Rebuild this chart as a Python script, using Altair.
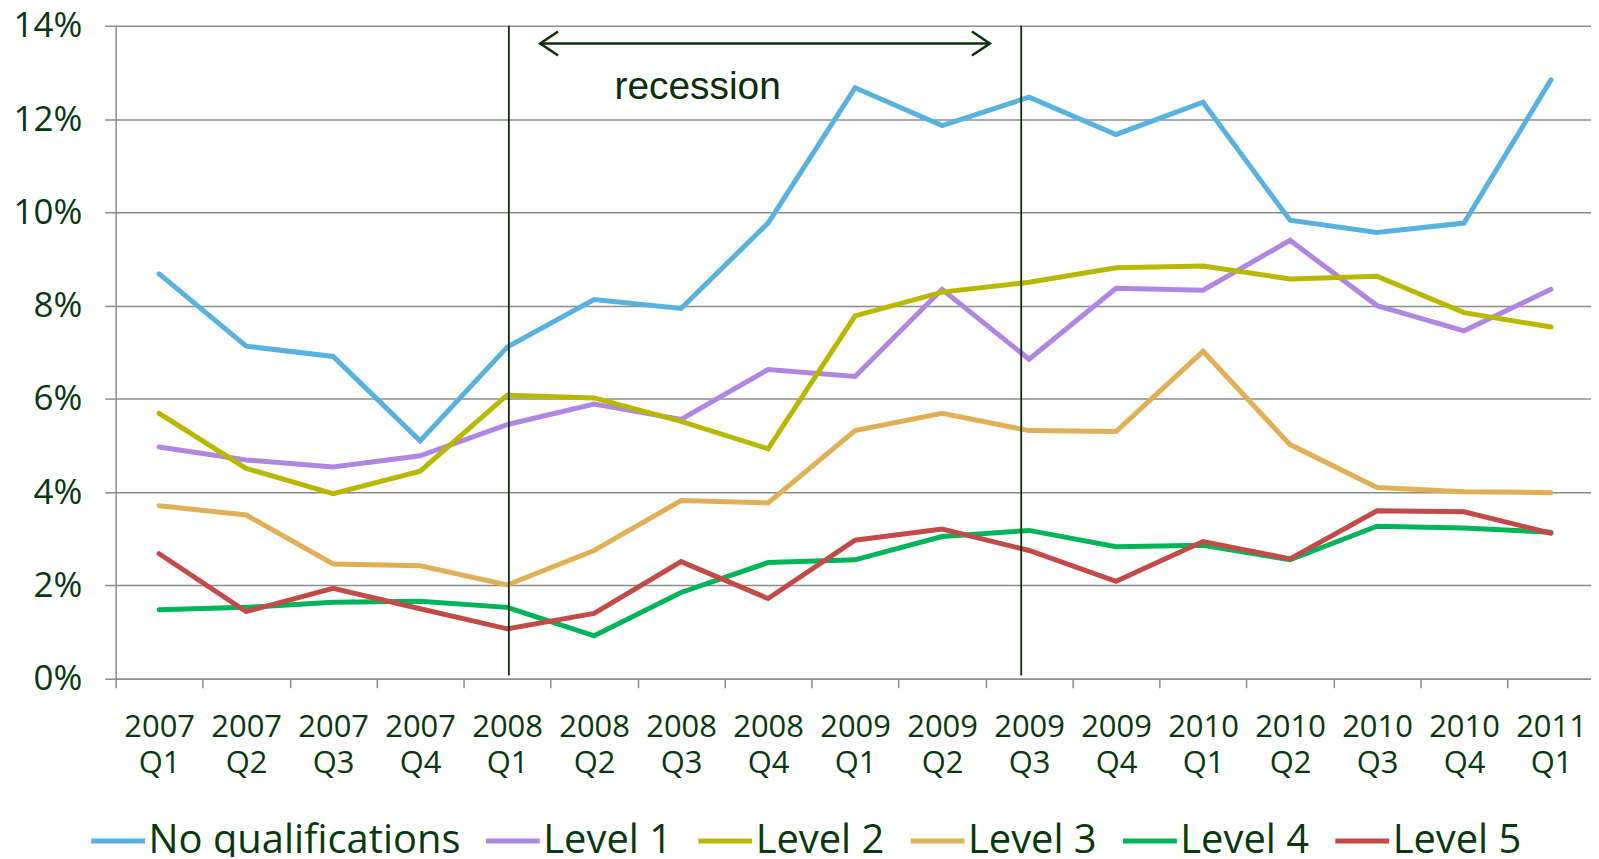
import altair as alt
import pandas as pd

# ---- data -------------------------------------------------------------
YEARS = ["2007"] * 4 + ["2008"] * 4 + ["2009"] * 4 + ["2010"] * 4 + ["2011"]
QTRS = ["Q1", "Q2", "Q3", "Q4"] * 4 + ["Q1"]

SERIES = ["No qualifications", "Level 1", "Level 2", "Level 3", "Level 4", "Level 5"]
COLORS = ["#58b2e0", "#b087e0", "#b9b800", "#e1b056", "#00b559", "#c24b48"]

NO_QUAL = [8.68, 7.13, 6.91, 5.10, 7.11, 8.13, 7.94, 9.77, 12.67, 11.86, 12.47, 11.67, 12.36, 9.83, 9.57, 9.77, 12.84]
LEVEL_1 = [4.97, 4.69, 4.54, 4.78, 5.45, 5.89, 5.56, 6.63, 6.48, 8.35, 6.85, 8.37, 8.33, 9.40, 8.00, 7.46, 8.35]
LEVEL_2 = [5.69, 4.51, 3.97, 4.45, 6.08, 6.02, 5.52, 4.93, 7.78, 8.29, 8.50, 8.81, 8.85, 8.57, 8.63, 7.85, 7.54]
LEVEL_3 = [3.71, 3.51, 2.46, 2.42, 2.01, 2.75, 3.82, 3.77, 5.32, 5.69, 5.32, 5.30, 7.02, 5.02, 4.10, 4.01, 3.99]
LEVEL_4 = [1.48, 1.53, 1.64, 1.66, 1.53, 0.92, 1.85, 2.49, 2.55, 3.05, 3.18, 2.83, 2.86, 2.55, 3.27, 3.23, 3.14]
LEVEL_5 = [2.68, 1.44, 1.94, 1.50, 1.07, 1.40, 2.51, 1.72, 2.97, 3.21, 2.75, 2.09, 2.94, 2.57, 3.60, 3.58, 3.12]

Y_TICKS = [0, 2, 4, 6, 8, 10, 12, 14]

# recession annotation (in data units: quarter index / percent)
REC_LINES = [4.02, 9.91]
REC_TOP, REC_BOTTOM = 14.0, 0.07
ARROW_FROM, ARROW_TO, ARROW_Y = 4.38, 9.55, 13.62
REC_LABEL = "recession"
REC_LABEL_X, REC_LABEL_Y = 6.19, 12.68

TEXT = "#0a380e"
GRID = "#8c8c8c"
DARK = "#0b2e0b"

# ---- tables -----------------------------------------------------------
rows = []
for name, vals in zip(SERIES, [NO_QUAL, LEVEL_1, LEVEL_2, LEVEL_3, LEVEL_4, LEVEL_5]):
    for i, v in enumerate(vals):
        rows.append({"idx": i, "value": v, "series": name})
df = pd.DataFrame(rows)

rec_df = pd.DataFrame({"idx": REC_LINES, "value": [REC_TOP] * 2, "value2": [REC_BOTTOM] * 2})
arrow_df = pd.DataFrame({"idx": [ARROW_FROM], "idx2": [ARROW_TO], "value": [ARROW_Y]})
head_l = pd.DataFrame({"idx": [ARROW_FROM], "value": [ARROW_Y]})
head_r = pd.DataFrame({"idx": [ARROW_TO], "value": [ARROW_Y]})
label_df = pd.DataFrame({"idx": [REC_LABEL_X], "value": [REC_LABEL_Y], "label": [REC_LABEL]})

# ---- encodings ----------------------------------------------------------
label_arr = "[" + ",".join("['%s','%s']" % (y, q) for y, q in zip(YEARS, QTRS)) + "]"
x_values = [i / 2 - 0.5 for i in range(2 * len(YEARS) + 1)]

x_axis = alt.Axis(
    values=x_values,
    title=None,
    labelExpr="datum.value % 1 == 0 ? " + label_arr + "[datum.value] : ''",
    labelFont="Open Sans",
    labelFontSize=31,
    labelColor=TEXT,
    labelLineHeight=36,
    labelPadding=25,
    labelOverlap=False,
    labelFlush=False,
    labelBound=False,
    tickSize=9,
    tickWidth=1.5,
    tickColor={"condition": {"test": "datum.value % 1 == 0", "value": "transparent"}, "value": GRID},
    domainColor=GRID,
    domainWidth=1.5,
    grid=False,
)
y_axis = alt.Axis(
    values=Y_TICKS,
    title=None,
    labelExpr="datum.value + '%'",
    labelFont="Open Sans",
    labelFontSize=35,
    labelColor=TEXT,
    labelPadding=23,
    tickSize=11,
    tickWidth=1.5,
    tickColor=GRID,
    domainColor=GRID,
    domainWidth=1.5,
    grid=True,
    gridColor=GRID,
    gridWidth=1.5,
)

x_scale = alt.Scale(domain=[-0.5, 16.46], nice=False, zero=False)
y_scale = alt.Scale(domain=[0, 14], nice=False)

X = alt.X("idx:Q", scale=x_scale, axis=x_axis)
Y = alt.Y("value:Q", scale=y_scale, axis=y_axis)

lines = alt.Chart(df).mark_line(strokeWidth=5, strokeCap="round").encode(
    x=X,
    y=Y,
    color=alt.Color(
        "series:N",
        scale=alt.Scale(domain=SERIES, range=COLORS),
        sort=SERIES,
        legend=alt.Legend(
            orient="none",
            legendX=-27,
            legendY=788,
            direction="horizontal",
            columns=6,
            title=None,
            symbolType="stroke",
            symbolSize=2916,
            symbolStrokeWidth=5,
            labelFont="Open Sans",
            labelFontSize=40,
            labelColor=TEXT,
            labelOffset=1,
            labelLimit=0,
            columnPadding=15,
            padding=0,
        ),
    ),
)

rec_rules = alt.Chart(rec_df).mark_rule(color=DARK, strokeWidth=1.8).encode(
    x=X, y=Y, y2="value2:Q"
)
arrow = alt.Chart(arrow_df).mark_rule(color=DARK, strokeWidth=2.5).encode(
    x=X, x2="idx2:Q", y=Y
)
arrow_l = alt.Chart(head_l).mark_point(
    shape="M1.5,-1L0,0L1.5,1", filled=False, size=576, strokeWidth=2.5, color=DARK, opacity=1
).encode(x=X, y=Y)
arrow_r = alt.Chart(head_r).mark_point(
    shape="M-1.5,-1L0,0L-1.5,1", filled=False, size=576, strokeWidth=2.5, color=DARK, opacity=1
).encode(x=X, y=Y)
rec_text = alt.Chart(label_df).mark_text(
    font="Liberation Sans", fontSize=39, color=DARK, align="center", baseline="middle"
).encode(x=X, y=Y, text="label:N")

chart = (
    alt.layer(lines, rec_rules, arrow, arrow_l, arrow_r, rec_text)
    .properties(
        width=1480,
        height=655,
        autosize=alt.AutoSizeParams(type="none"),
        padding={"left": 108, "top": 16.5, "right": 0, "bottom": 177},
    )
    .configure_view(stroke=None)
)

chart.save("out.html", embed_options={"renderer": "svg", "actions": False})
